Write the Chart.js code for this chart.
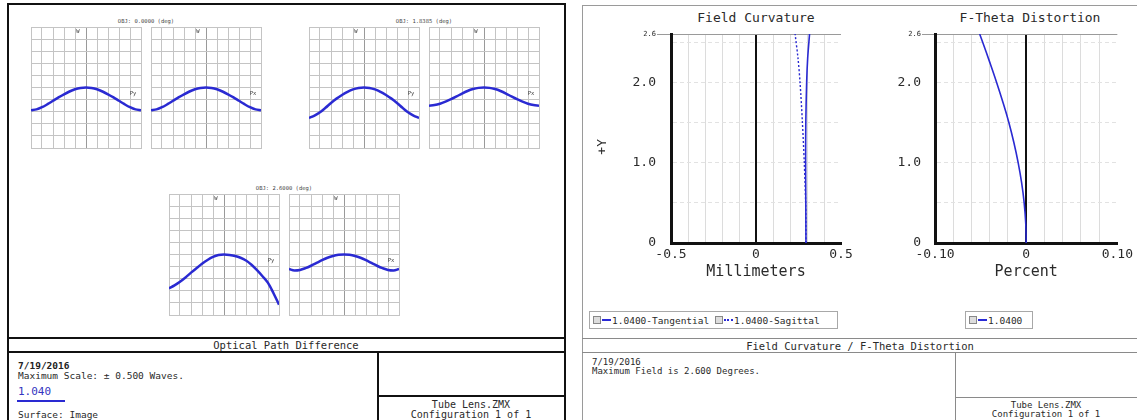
<!DOCTYPE html>
<html>
<head>
<meta charset="utf-8">
<script src="https://cdn.jsdelivr.net/npm/chart.js@4.4.1/dist/chart.umd.min.js"></script>
<style>
  body { margin: 0; width: 1137px; height: 420px; background: #fff; overflow: hidden; position: relative;
         font-family: "DejaVu Sans Mono", monospace; color: #2a2a2a; }
  canvas { position: absolute; }
  .ln { position: absolute; }
  .tx { position: absolute; white-space: pre; }
  .legend { position: absolute; border: 1px solid #a8a8a8; box-sizing: border-box; font-size: 9.5px;
            display: flex; align-items: center; padding-left: 3px; white-space: pre; }
  .icon { display: inline-block; width: 6px; height: 6px; border: 1px solid #888; background: #ddd; }
  .swatch { display: inline-block; width: 9px; height: 0; border-top: 2px solid #2a2ad6; margin: 0 1px 0 1px; }
  .swatch.dash { border-top-style: dotted; }
</style>
</head>
<body>
<script>
const FONT = '"DejaVu Sans Mono", monospace';
const BLUE = '#2a2ad2';

// OPD fans: pupil coordinate and wavefront error (waves) per field
const pupil = [-1, -0.9, -0.8, -0.7, -0.6, -0.5, -0.4, -0.3, -0.2, -0.1, 0, 0.1, 0.2, 0.3, 0.4, 0.5, 0.6, 0.7, 0.8, 0.9, 1];
const field1Tan = [-0.188, -0.181, -0.163, -0.138, -0.110, -0.082, -0.056, -0.033, -0.015, -0.004, 0, -0.004, -0.015, -0.033, -0.056, -0.082, -0.110, -0.138, -0.163, -0.181, -0.188];
const field1Sag = [-0.188, -0.181, -0.163, -0.138, -0.110, -0.082, -0.056, -0.033, -0.015, -0.004, 0, -0.004, -0.015, -0.033, -0.056, -0.082, -0.110, -0.138, -0.163, -0.181, -0.188];
const field2Tan = [-0.252, -0.232, -0.205, -0.168, -0.128, -0.092, -0.062, -0.036, -0.016, -0.004, 0, -0.004, -0.016, -0.036, -0.062, -0.092, -0.128, -0.168, -0.205, -0.232, -0.252];
const field2Sag = [-0.150, -0.145, -0.134, -0.117, -0.097, -0.074, -0.050, -0.029, -0.013, -0.003, 0, -0.003, -0.013, -0.029, -0.050, -0.074, -0.097, -0.117, -0.134, -0.145, -0.150];
const field3Tan = [-0.280, -0.255, -0.225, -0.190, -0.150, -0.113, -0.077, -0.045, -0.020, -0.004, 0, -0.004, -0.012, -0.027, -0.050, -0.085, -0.130, -0.180, -0.235, -0.320, -0.415];
const field3Sag = [-0.120, -0.132, -0.128, -0.113, -0.093, -0.070, -0.047, -0.027, -0.012, -0.003, 0, -0.003, -0.012, -0.027, -0.047, -0.070, -0.093, -0.113, -0.128, -0.132, -0.120];
const opdXTicks = [-1, -0.8, -0.6, -0.4, -0.2, 0, 0.2, 0.4, 0.6, 0.8, 1];
const opdYTicks = [-0.5, -0.4, -0.3, -0.2, -0.1, 0, 0.1, 0.2, 0.3, 0.4, 0.5];
const fieldTitles = ['OBJ: 0.0000 (deg)', 'OBJ: 1.8385 (deg)', 'OBJ: 2.6000 (deg)'];

// Field curvature (mm) and f-theta distortion (%) against field (deg)
const fieldY = [0, 0.5, 1.0, 1.5, 2.0, 2.3, 2.6];
const tangential = [0.294, 0.293, 0.292, 0.293, 0.298, 0.304, 0.315];
const sagittal = [0.294, 0.292, 0.284, 0.273, 0.259, 0.247, 0.230];
const distField = [0, 0.25, 0.5, 0.75, 1.0, 1.25, 1.5, 1.75, 2.0, 2.25, 2.5, 2.6];
const distortion = [0, -0.0005, -0.0022, -0.0050, -0.0088, -0.0135, -0.0190, -0.0255, -0.0325, -0.0400, -0.0478, -0.0510];
const fcXTicks = [-0.5, -0.4, -0.3, -0.2, -0.1, 0, 0.1, 0.2, 0.3, 0.4, 0.5];
const fcXLabels = ['-0.5', '', '', '', '', '0', '', '', '', '', '0.5'];
const distXTicks = [-0.1, -0.08, -0.06, -0.04, -0.02, 0, 0.02, 0.04, 0.06, 0.08, 0.1];
const distXLabels = ['-0.10', '', '', '', '', '0', '', '', '', '', '0.10'];
const fieldTicks = [0, 0.5, 1.0, 1.5, 2.0, 2.5, 2.6];
const fieldLabels = ['0', '', '1.0', '', '2.0', '', '2.6'];

function line(x1, y1, x2, y2, w, color) {
  const d = document.createElement('div');
  d.className = 'ln';
  d.style.background = color;
  if (y1 === y2) {
    Object.assign(d.style, { left: x1 + 'px', top: (y1 - w / 2) + 'px', width: (x2 - x1) + 'px', height: w + 'px' });
  } else {
    Object.assign(d.style, { left: (x1 - w / 2) + 'px', top: y1 + 'px', width: w + 'px', height: (y2 - y1) + 'px' });
  }
  document.body.appendChild(d);
}

function text(str, x, y, size, align = 'left', color = '#2a2a2a', weight = 'normal', rotate = 0) {
  const d = document.createElement('div');
  d.className = 'tx';
  d.textContent = str;
  const shift = align === 'center' ? '-50%' : align === 'right' ? '-100%' : '0';
  Object.assign(d.style, {
    left: x + 'px', top: (y - size * 0.6) + 'px', fontSize: size + 'px', lineHeight: (size * 1.2) + 'px',
    color, fontWeight: weight, transform: `translateX(${shift})` + (rotate ? ` rotate(${rotate}deg)` : '')
  });
  document.body.appendChild(d);
}

function makeCanvas(x, y, w, h) {
  const c = document.createElement('canvas');
  c.width = w; c.height = h;
  Object.assign(c.style, { left: x + 'px', top: y + 'px', width: w + 'px', height: h + 'px' });
  document.body.appendChild(c);
  return c;
}

// ---- left frame: OPD ----
line(7, 4, 566, 4, 2, '#111');
line(8, 4, 8, 420, 2, '#111');
line(565, 4, 565, 420, 2, '#111');
line(8, 338, 565, 338, 1.5, '#111');
line(8, 352, 565, 352, 1.5, '#111');
line(378, 352, 378, 420, 1.5, '#111');
line(378, 396, 565, 396, 1.5, '#111');
text('Optical Path Difference', 286, 345, 10.5, 'center');
text('7/19/2016', 18, 366, 9.5, 'left', '#222', 'bold');
text('Maximum Scale: \u00b1 0.500 Waves.', 18, 376, 9.5);
text('1.040', 18, 392, 11, 'left', '#3434c0');
line(17, 401, 65, 401, 2, BLUE);
text('Surface: Image', 18, 415, 9.5);
text('Tube Lens.ZMX', 471, 405, 10, 'center');
text('Configuration 1 of 1', 471, 415, 10, 'center');

const opdPlots = [
  { x: 31, y: 27, values: field1Tan, axis: 'Py', field: 0 },
  { x: 151, y: 27, values: field1Sag, axis: 'Px', field: 0 },
  { x: 309, y: 27, values: field2Tan, axis: 'Py', field: 1 },
  { x: 429, y: 27, values: field2Sag, axis: 'Px', field: 1 },
  { x: 169, y: 194, values: field3Tan, axis: 'Py', field: 2 },
  { x: 289, y: 194, values: field3Sag, axis: 'Px', field: 2 },
];
const OPD_W = 110, OPD_H = 121;

[0, 2, 4].forEach(i => {
  const p = opdPlots[i];
  text(fieldTitles[p.field], p.x + OPD_W + 5, p.y - 6, 5.5, 'center', '#444');
});

opdPlots.forEach(p => {
  const cv = makeCanvas(p.x - 1, p.y - 1, OPD_W + 2, OPD_H + 2);
  new Chart(cv, {
    type: 'scatter',
    data: {
      datasets: [{
        data: pupil.map((px, i) => ({ x: px, y: p.values[i] })),
        showLine: true, borderColor: BLUE, borderWidth: 2.5, pointRadius: 0,
        cubicInterpolationMode: 'monotone'
      }]
    },
    options: {
      responsive: false, animation: false, events: [],
      layout: { padding: 1 },
      plugins: { legend: { display: false }, tooltip: { enabled: false } },
      scales: {
        x: {
          type: 'linear', min: -1, max: 1,
          afterBuildTicks: s => { s.ticks = opdXTicks.map(v => ({ value: v })); },
          afterFit: s => { s.height = 0; },
          ticks: { display: false },
          grid: { drawTicks: false, color: c => c.tick.value === 0 ? '#9a9a9a' : '#c4c4c4', lineWidth: 1 },
          border: { color: '#c4c4c4', width: 1 }
        },
        y: {
          min: -0.5, max: 0.5,
          afterBuildTicks: s => { s.ticks = opdYTicks.map(v => ({ value: v })); },
          afterFit: s => { s.width = 0; },
          ticks: { display: false },
          grid: { drawTicks: false, color: '#c4c4c4', lineWidth: 1 },
          border: { color: '#c4c4c4', width: 1 }
        }
      }
    }
  });
  text('W', p.x + OPD_W / 2 - 8, p.y + 4, 5.5, 'center', '#444');
  text(p.axis, p.x + OPD_W - 8, p.y + 66, 5.5, 'center', '#444');
});

// ---- right frame: field curvature / distortion ----
line(582, 5, 1137, 5, 1, '#9a9a9a');
line(582, 5, 582, 420, 1, '#9a9a9a');
line(582, 338, 1137, 338, 1, '#8a8a8a');
line(582, 352, 1137, 352, 1, '#8a8a8a');
line(955, 352, 955, 420, 1, '#8a8a8a');
line(955, 397, 1137, 397, 1, '#8a8a8a');
text('Field Curvature / F-Theta Distortion', 860, 346, 10.5, 'center');
text('7/19/2016', 592, 362, 9);
text('Maximum Field is 2.600 Degrees.', 592, 371, 9);
text('Tube Lens.ZMX', 1046, 405, 9, 'center');
text('Configuration 1 of 1', 1046, 414, 9, 'center');
text('Field Curvature', 756, 18, 13, 'center');
text('F-Theta Distortion', 1030, 18, 13, 'center');
text('+Y', 602, 147, 13, 'center', '#2a2a2a', 'normal', -90);

const lg1 = document.createElement('div');
lg1.className = 'legend';
Object.assign(lg1.style, { left: '589px', top: '311px', width: '249px', height: '18px' });
lg1.innerHTML = '<span class="icon"></span><span class="swatch"></span>1.0400-Tangential <span class="icon"></span><span class="swatch dash"></span>1.0400-Sagittal';
document.body.appendChild(lg1);
const lg2 = document.createElement('div');
lg2.className = 'legend';
Object.assign(lg2.style, { left: '965px', top: '311px', width: '68px', height: '18px' });
lg2.innerHTML = '<span class="icon"></span><span class="swatch"></span>1.0400';
document.body.appendChild(lg2);

const tickFont = c => ({ family: FONT, size: c.tick && c.tick.value === 2.6 ? 7 : 13 });

function fieldAxis(tickLen, width) {
  return {
    min: 0, max: 2.6,
    afterBuildTicks: s => { s.ticks = fieldTicks.map(v => ({ value: v })); },
    afterFit: s => { s.width = width; },
    ticks: { autoSkip: false, padding: 1, color: '#2a2a2a', font: tickFont, callback: (v, i) => fieldLabels[i] },
    grid: {
      drawTicks: true, tickLength: tickLen,
      tickColor: c => c.tick && c.tick.value === 2.6 ? '#9a9a9a' : 'rgba(0,0,0,0)',
      color: c => c.tick.value === 0 ? 'rgba(0,0,0,0)' : c.tick.value === 2.6 ? '#9a9a9a' : '#e2e2e2',
      lineWidth: 1
    },
    border: { color: '#111', width: 3, dash: c => (c.tick && c.tick.value !== 2.6) ? [4, 3] : [] }
  };
}

function valueAxis(min, max, ticks, labels, title) {
  return {
    type: 'linear', min, max,
    afterBuildTicks: s => { s.ticks = ticks.map(v => ({ value: v })); },
    afterFit: s => { s.height = 42; },
    ticks: { autoSkip: false, maxRotation: 0, padding: 4, color: '#2a2a2a', font: { family: FONT, size: 13 }, callback: (v, i) => labels[i] },
    grid: {
      drawTicks: false,
      color: c => c.tick.value === 0 ? '#111' : (c.tick.value === min || c.tick.value === max) ? 'rgba(0,0,0,0)' : '#dcdcdc',
      lineWidth: c => c.tick.value === 0 ? 2 : 1
    },
    border: { color: '#111', width: 3 },
    title: { display: true, text: title, color: '#2a2a2a', font: { family: FONT, size: 15 }, padding: { top: 0, bottom: 4 } }
  };
}

new Chart(makeCanvas(594, 0, 266, 290), {
  type: 'scatter',
  data: {
    datasets: [
      { data: fieldY.map((y, i) => ({ x: tangential[i], y })), showLine: true, borderColor: BLUE, borderWidth: 1.6, pointRadius: 0, tension: 0.3 },
      { data: fieldY.map((y, i) => ({ x: sagittal[i], y })), showLine: true, borderColor: BLUE, borderWidth: 1.4, borderDash: [2, 2], pointRadius: 0, tension: 0.3 }
    ]
  },
  options: {
    responsive: false, animation: false, events: [],
    layout: { padding: { top: 34, right: 19, bottom: 5, left: 0 } },
    plugins: { legend: { display: false }, tooltip: { enabled: false } },
    scales: { x: valueAxis(-0.5, 0.5, fcXTicks, fcXLabels, 'Millimeters'), y: fieldAxis(14, 77) }
  }
});

new Chart(makeCanvas(870, 0, 267, 290), {
  type: 'scatter',
  data: {
    datasets: [
      { data: distField.map((y, i) => ({ x: distortion[i], y })), showLine: true, borderColor: BLUE, borderWidth: 1.6, pointRadius: 0, tension: 0.4 }
    ]
  },
  options: {
    responsive: false, animation: false, events: [],
    layout: { padding: { top: 34, right: 16, bottom: 5, left: 0 } },
    plugins: { legend: { display: false }, tooltip: { enabled: false } },
    scales: { x: valueAxis(-0.1, 0.1, distXTicks, distXLabels, 'Percent'), y: fieldAxis(13, 65) }
  }
});
</script>
</body>
</html>
